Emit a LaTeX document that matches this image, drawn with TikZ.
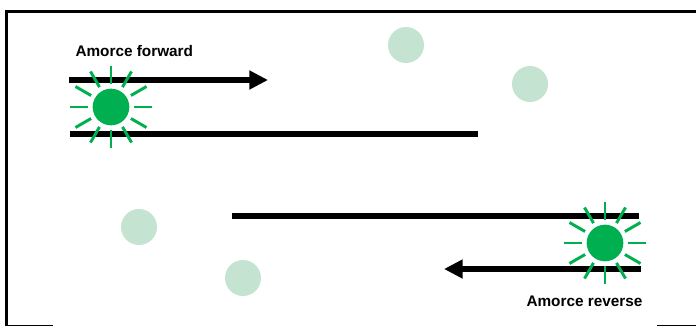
\documentclass[tikz,border=0pt]{standalone}
\usepackage{fontspec}
\setmainfont{Liberation Sans}
\usetikzlibrary{arrows.meta,calc}
\definecolor{sungreen}{HTML}{00B050}
\definecolor{palegreen}{HTML}{C5E3D1}
\tikzset{every picture/.style={line width=0.75pt},
  strand/.style={line width=4.5pt},
  primer/.style={line width=4.5pt,-{Triangle[length=14pt,width=13.5pt]}},
  probe/.style={circle,fill=palegreen,minimum size=27pt,inner sep=0pt},
  dye/.style={circle,fill=sungreen,minimum size=27.5pt,inner sep=0pt},
  ray/.style={draw=sungreen,line width=2.2pt},
  label/.style={inner sep=0.75pt,font=\fontsize{11.5}{13}\selectfont\bfseries}}

\begin{document}
\begin{tikzpicture}[x=0.75pt,y=0.75pt,yscale=-1,xscale=1]
	\useasboundingbox (0,0) rectangle (696,326);
	%Frame
	\draw [line width=2.25pt] (6.5,326) -- (6.5,11.5) -- (696,11.5) ;
	\draw (7,325.5) -- (53,325.5) ;
	\draw (657,325.5) -- (696,325.5) ;
	%Free probes
	\node [probe] (p1) at (406,45) {};
	\node [probe] (p2) at (530,84) {};
	\node [probe] (p3) at (139,227) {};
	\node [probe] (p4) at (243,278) {};
	%Strands
	\coordinate (s1a) at (70,134); \coordinate (s1b) at (478,134);
	\coordinate (s2a) at (232,216); \coordinate (s2b) at (639,216);
	\draw [strand] (s1a) -- (s1b) ;
	\draw [strand] (s2a) -- (s2b) ;
	%Primers
	\coordinate (fwa) at (69,80); \coordinate (fwb) at (268,80);
	\coordinate (rva) at (641,269); \coordinate (rvb) at (444,269);
	\draw [primer] (fwa) -- (fwb) ;
	\draw [primer] (rva) -- (rvb) ;
	%Fluorescent dyes
	\node [dye] (d1) at (111,107) {};
	\node [dye] (d2) at (605,243) {};
	\foreach \d in {d1,d2}
	  \foreach \a in {0,30,...,330}
	    \draw [ray] ($(\d.center)+(\a:23)$) -- ($(\d.center)+(\a:41)$) ;
	% Text Node
	\node [label,anchor=west] (fwlabel) at (74,51) {Amorce forward};
	% Text Node
	\node [label,anchor=west] (rvlabel) at (525,301) {Amorce reverse};
\end{tikzpicture}
\end{document}
